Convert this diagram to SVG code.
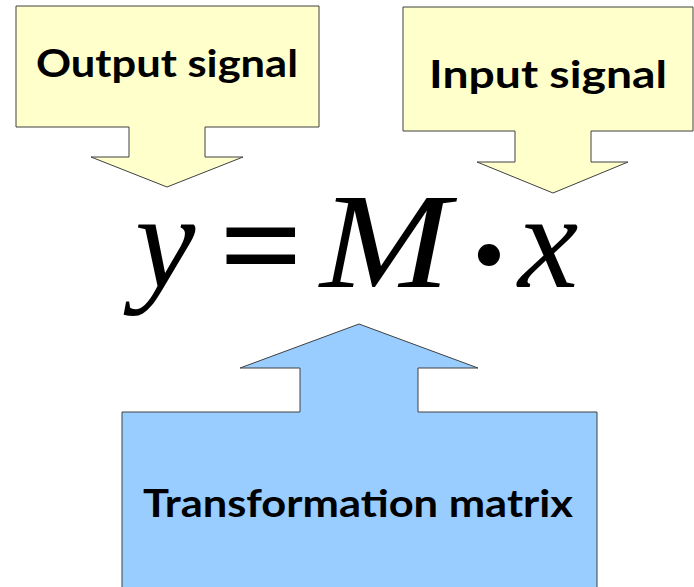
<svg xmlns="http://www.w3.org/2000/svg" width="694" height="587" viewBox="0 0 694 587">
<style>
.y{fill:#FFFFCC;stroke:#404040;stroke-width:1}
.b{fill:#99CCFF;stroke:#404040;stroke-width:1}
.lbl{font-family:Lato,"Open Sans","Liberation Sans",sans-serif;font-weight:bold;fill:#000;font-size:38px}
.m{font-family:"Liberation Serif","Times New Roman",serif;font-style:italic;fill:#000;font-size:136px}
</style>
<rect width="694" height="587" fill="#fff"/>
<g id="output">
<path class="y" d="M16,6 H319 V127 H205 V157 H243 L167,187 L91,157 H129 V127 H16 Z"/>
<text class="lbl" x="36" y="77" textLength="262" lengthAdjust="spacingAndGlyphs">Output signal</text>
</g>
<g id="input">
<path class="y" d="M403,7 H693 V131 H591 V162 H628 L553,193 L477,162 H515 V131 H403 Z"/>
<text class="lbl" x="429" y="88" textLength="238" lengthAdjust="spacingAndGlyphs">Input signal</text>
</g>
<g id="matrix">
<path class="b" d="M122,600 V412 H300 V368 H240 L359,324 L478,368 H418 V412 H597 V600 Z"/>
<text class="lbl" x="143" y="517" textLength="430" lengthAdjust="spacingAndGlyphs">Transformation matrix</text>
</g>
<g id="equation">
<text class="m" x="135" y="287">y</text>
<text class="m" x="218" y="291" font-style="normal" font-weight="bold" font-size="160" textLength="84" lengthAdjust="spacingAndGlyphs">=</text>
<text class="m" x="320" y="287" textLength="130" lengthAdjust="spacingAndGlyphs">M</text>
<text class="m" x="471" y="300" font-style="normal" font-weight="bold" font-size="160">·</text>
<text class="m" x="518" y="287">x</text>
</g>
<g id="connectors"></g>
</svg>
